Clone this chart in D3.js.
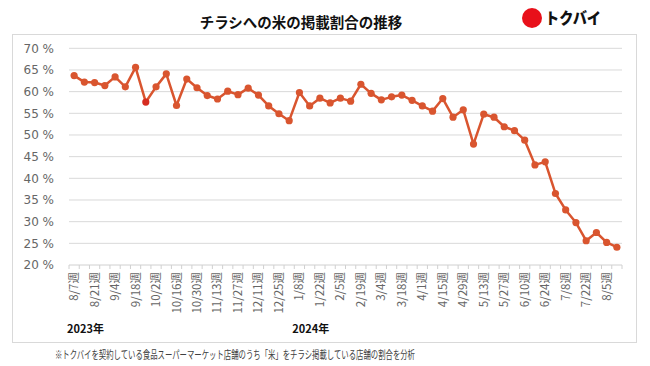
<!DOCTYPE html>
<html>
<head>
<meta charset="utf-8">
<script src="https://cdn.jsdelivr.net/npm/d3@7"></script>
<style>
  body { margin: 0; background: #fff; }
  text { font-family: "Noto Sans CJK JP", "Noto Sans", sans-serif; }
</style>
</head>
<body>
<script>
var width = 650,
    height = 366;

// weekly labels (every other week is shown)
var weeks = ["8/7週","8/14週","8/21週","8/28週","9/4週","9/11週","9/18週","9/25週",
  "10/2週","10/9週","10/16週","10/23週","10/30週","11/6週","11/13週","11/20週",
  "11/27週","12/4週","12/11週","12/18週","12/25週","1/1週","1/8週","1/15週",
  "1/22週","1/29週","2/5週","2/12週","2/19週","2/26週","3/4週","3/11週",
  "3/18週","3/25週","4/1週","4/8週","4/15週","4/22週","4/29週","5/6週",
  "5/13週","5/20週","5/27週","6/3週","6/10週","6/17週","6/24週","7/1週",
  "7/8週","7/15週","7/22週","7/29週","8/5週","8/12週"];

var share = [63.7, 62.2, 62.1, 61.4, 63.4, 61.1, 65.6, 57.6, 61.1, 64.1,
  56.8, 62.9, 60.9, 59.1, 58.3, 60.1, 59.3, 60.8, 59.2, 56.7,
  54.9, 53.3, 59.8, 56.7, 58.5, 57.4, 58.5, 57.8, 61.7, 59.6,
  58.1, 58.8, 59.2, 58.0, 56.7, 55.5, 58.4, 54.1, 55.8, 47.9,
  54.8, 54.1, 51.9, 51.0, 48.8, 43.1, 43.8, 36.5, 32.7, 29.8,
  25.6, 27.5, 25.2, 24.1];

var yTicks = [20, 25, 30, 35, 40, 45, 50, 55, 60, 65, 70];
var years = [{label: "2023年", at: "8/7週"}, {label: "2024年", at: "1/8週"}];

var svg = d3.select("body").append("svg")
    .attr("width", width)
    .attr("height", height);

// title + logo
svg.append("text")
    .attr("x", 301).attr("y", 28)
    .attr("text-anchor", "middle")
    .style("font-size", "14.5px").style("font-weight", "bold")
    .attr("fill", "#111")
    .text("チラシへの米の掲載割合の推移");

svg.append("circle").attr("cx", 532).attr("cy", 18).attr("r", 10).attr("fill", "#e8101a");
svg.append("text")
    .attr("x", 545).attr("y", 24)
    .attr("textLength", 56).attr("lengthAdjust", "spacingAndGlyphs")
    .style("font-size", "16px").style("font-weight", "900")
    .attr("fill", "#111")
    .text("トクバイ");

// frame
svg.append("rect")
    .attr("x", 12.5).attr("y", 34.5)
    .attr("width", 624).attr("height", 308)
    .attr("fill", "none").attr("stroke", "#d9d9d9");

var margin = {left: 69, right: 622, top: 48.3, bottom: 265};

var x = d3.scaleBand()
    .domain(weeks)
    .range([margin.left, margin.right]);

var y = d3.scaleLinear()
    .domain([20, 70])
    .range([margin.bottom, margin.top]);

// gridlines
svg.append("g")
  .selectAll("line")
  .data(yTicks.slice(1))
  .enter().append("line")
    .attr("x1", margin.left).attr("x2", margin.right)
    .attr("y1", function(d) { return y(d); })
    .attr("y2", function(d) { return y(d); })
    .attr("stroke", "#d9d9d9").attr("stroke-width", 1);

// y labels
var yAxis = svg.append("g")
    .attr("transform", "translate(" + (margin.left - 12) + ",0)")
    .call(d3.axisLeft(y).tickValues(yTicks).tickSize(0).tickFormat(function(d) { return d + " %"; }));
yAxis.select(".domain").remove();
yAxis.selectAll("text")
    .attr("fill", "#666")
    .style("font-family", "'DejaVu Sans', sans-serif")
    .style("font-size", "12px");

// x axis with ticks between categories
var xg = svg.append("g").attr("transform", "translate(0," + margin.bottom + ")");
xg.append("line")
    .attr("x1", margin.left).attr("x2", margin.right)
    .attr("stroke", "#d0d0d0");
xg.selectAll(".tk")
  .data(weeks.concat(["end"]))
  .enter().append("line")
    .attr("class", "tk")
    .attr("x1", function(d, i) { return margin.left + i * x.step(); })
    .attr("x2", function(d, i) { return margin.left + i * x.step(); })
    .attr("y1", 0).attr("y2", 4)
    .attr("stroke", "#d0d0d0");

xg.selectAll(".lbl")
  .data(weeks.filter(function(d, i) { return i % 2 == 0; }))
  .enter().append("text")
    .attr("class", "lbl")
    .attr("transform", function(d) {
      return "translate(" + (x(d) + x.bandwidth() / 2 + 4) + ",7) rotate(-90)";
    })
    .attr("text-anchor", "end")
    .attr("fill", "#666")
    .style("font-size", "11.5px")
    .text(function(d) { return d; });

svg.selectAll(".year")
  .data(years)
  .enter().append("text")
    .attr("class", "year")
    .attr("x", function(d) { return x(d.at) - 2; })
    .attr("y", 333)
    .style("font-size", "11px").style("font-weight", "bold")
    .attr("fill", "#111")
    .text(function(d) { return d.label; });

// line
var line = d3.line()
    .x(function(d, i) { return x(weeks[i]) + x.bandwidth() / 2; })
    .y(function(d) { return y(d); });

svg.append("path")
    .datum(share)
    .attr("d", line)
    .attr("fill", "none")
    .attr("stroke", "#d9552f")
    .attr("stroke-width", 2.5)
    .attr("stroke-linejoin", "round");

svg.selectAll(".pt")
  .data(share)
  .enter().append("circle")
    .attr("class", "pt")
    .attr("cx", function(d, i) { return x(weeks[i]) + x.bandwidth() / 2; })
    .attr("cy", function(d) { return y(d); })
    .attr("r", 3.6)
    .attr("fill", function(d, i) { return i == 7 ? "#d62d20" : "#d9552f"; });

// footnote
svg.append("text")
    .attr("x", 55).attr("y", 359)
    .attr("textLength", 360).attr("lengthAdjust", "spacingAndGlyphs")
    .style("font-size", "11px")
    .attr("fill", "#404040")
    .text("※トクバイを契約している食品スーパーマーケット店舗のうち「米」をチラシ掲載している店舗の割合を分析");
</script>
</body>
</html>
